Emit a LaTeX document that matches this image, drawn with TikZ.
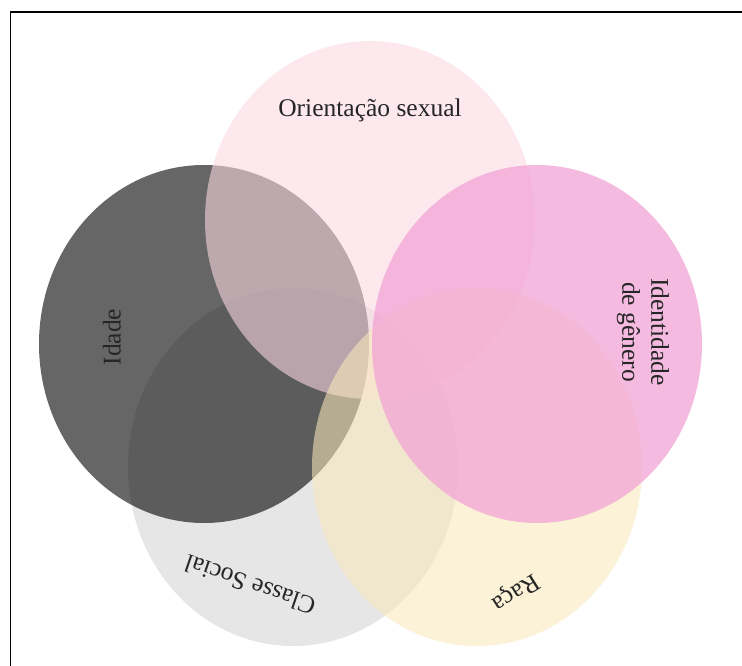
\documentclass[tikz,border=0pt]{standalone}
\usepackage{fontspec}
\setmainfont{Liberation Serif}
\usetikzlibrary{positioning}
\definecolor{classefill}{RGB}{230,230,230}
\definecolor{orientfill}{RGB}{252,217,227}
\definecolor{racafill}{RGB}{250,233,188}
\definecolor{generofill}{RGB}{242,163,213}
\tikzset{
  setarea/.style={x radius=165pt, y radius=179pt},
  tag/.style={font=\fontsize{25.5}{29}\selectfont, text=black!85, align=center, inner sep=0pt},
  frameline/.style={line width=1.8pt, black},
}

\begin{document}
\begin{tikzpicture}[x=1pt, y=-1pt]
\useasboundingbox[fill=white] (0,0) rectangle (742,666);

% centres of the five sets
\coordinate (classe) at (293,467);
\coordinate (idade) at (204,344);
\coordinate (orient) at (370,220);
\coordinate (raca) at (477,467);
\coordinate (genero) at (537,344);

% sets, bottom to top
\fill[classefill] (classe) ellipse [setarea];
\fill[black, fill opacity=.6] (idade) ellipse [setarea];
\fill[orientfill, fill opacity=.58] (orient) ellipse [setarea];
\fill[racafill, fill opacity=.57] (raca) ellipse [setarea];
\fill[generofill, fill opacity=.74] (genero) ellipse [setarea];

% labels
\node[tag] (torient) at (370,110) {Orientação sexual};
\node[tag, rotate=90] (tidade) at (112,337) {Idade};
\node[tag, rotate=-90] (tgenero) at (643,332) {Identidade\\de gênero};
\node[tag, rotate=161] (tclasse) at (250,585) {Classe Social};
\node[tag, rotate=212] (traca) at (515,592) {Raça};

% frame
\draw[frameline] (742,12) -- (10.5,12) -- (10.5,666);

\end{tikzpicture}
\end{document}
